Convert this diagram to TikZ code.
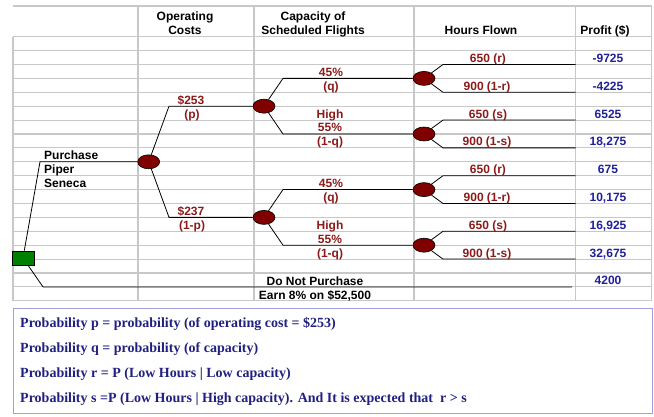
\documentclass[tikz,border=0pt]{standalone}
\usepackage{fontspec}
\setmainfont{Liberation Sans}
\newfontfamily\notefont{Liberation Serif}
\usetikzlibrary{shapes.geometric}
\definecolor{labc}{HTML}{8B1A1A}
\definecolor{profc}{HTML}{1F1F99}
\definecolor{gridc}{HTML}{C8C8C8}
\definecolor{boxc}{HTML}{A0A0E0}
\definecolor{notec}{HTML}{202080}
\definecolor{maroonc}{HTML}{800000}
\definecolor{leafc}{HTML}{008000}
\begin{document}
\begin{tikzpicture}[x=1pt,y=-1pt,
  font=\bfseries\fontsize{12}{14}\selectfont,
  tx/.style={anchor=base, inner sep=0pt},
  lab/.style={tx, text=labc},
  pf/.style={tx, text=profc},
  note/.style={anchor=base west, inner sep=0pt, text=notec, font=\notefont\bfseries\fontsize{14}{16}\selectfont},
  chance/.style={ellipse, draw=black, line width=0.6pt, fill=maroonc, minimum width=22pt, minimum height=14pt, inner sep=0pt},
  decision/.style={rectangle, draw=black, line width=0.6pt, fill=leafc, minimum width=22pt, minimum height=14pt, inner sep=0pt},
  conn/.style={draw=black, line width=0.8pt},
  gridl/.style={draw=gridc, line width=1.1pt}]
\useasboundingbox (0,0) rectangle (654,417);
% grid
\draw[gridl] (12.5,6) -- (651.5,6);
\foreach \k in {0,...,19} \draw[gridl] (13,{36.7+13.9*\k}) -- (651.5,{36.7+13.9*\k});
\draw[gridl, line width=2pt] (13,273) -- (651.5,273);
\draw[gridl] (13,36.7) -- (13,300.8);
\foreach \x in {138,254,414,575.5,651.5} \draw[gridl] (\x,6) -- (\x,300.8);
% headers
\node[tx] (h1a) at (185,20.5) {Operating};
\node[tx] (h1b) at (185,34.5) {Costs};
\node[tx] (h2a) at (313,20.5) {Capacity of};
\node[tx] (h2b) at (313,34.5) {Scheduled Flights};
\node[tx] (h3) at (481,35) {Hours Flown};
\node[tx] (h4) at (605,35) {Profit (\$)};
% tree nodes
\node[decision] (d0) at (23,258) {};
\node[chance] (c1) at (148.7,161.8) {};
\node[chance] (c2) at (264,106.2) {};
\node[chance] (c3) at (264,217.4) {};
\node[chance] (n1) at (424,78.4) {};
\node[chance] (n2) at (424,134) {};
\node[chance] (n3) at (424,189.6) {};
\node[chance] (n4) at (424,245.2) {};
% coordinates
\coordinate (pA) at (40,161.8);
\coordinate (b1) at (169,106.2);
\coordinate (b2) at (169,217.4);
\coordinate (q1) at (283,78.4);
\coordinate (q2) at (283,134);
\coordinate (q3) at (283,189.6);
\coordinate (q4) at (283,245.2);
\coordinate (dnb) at (43,286.9);
\coordinate (dne) at (572,286.9);
% connectors
\draw[conn] (d0) -- (pA) -- (c1);
\draw[conn] (c1) -- (b1) -- (c2);
\draw[conn] (c1) -- (b2) -- (c3);
\draw[conn] (c2) -- (q1) -- (n1);
\draw[conn] (c2) -- (q2) -- (n2);
\draw[conn] (c3) -- (q3) -- (n3);
\draw[conn] (c3) -- (q4) -- (n4);
\draw[conn] (d0) -- (dnb) -- (dne);
\foreach \n/\y in {n1/78.4,n2/134,n3/189.6,n4/245.2}{
  \coordinate (\n u) at (443,{\y-13.9});
  \coordinate (\n ue) at (575.5,{\y-13.9});
  \coordinate (\n d) at (443,{\y+13.9});
  \coordinate (\n de) at (575.5,{\y+13.9});
  \draw[conn] (\n) -- (\n u) -- (\n ue);
  \draw[conn] (\n) -- (\n d) -- (\n de);
}
% purchase text
\node[tx, anchor=base west] (t1) at (44,159.8) {Purchase};
\node[tx, anchor=base west] (t2) at (44,173.7) {Piper};
\node[tx, anchor=base west] (t3) at (44,187.6) {Seneca};
% cost labels
\node[lab] (l1) at (191,104.2) {\$253};
\node[lab] (l2) at (192,118.1) {(p)};
\node[lab] (l3) at (191,215.4) {\$237};
\node[lab] (l4) at (192,229.3) {(1-p)};
% capacity labels
\node[lab] (k1) at (331,76.4) {45\%};
\node[lab] (k2) at (331,90.3) {(q)};
\node[lab] (k3) at (330,118.1) {High};
\node[lab] (k4) at (330,132.0) {55\%};
\node[lab] (k5) at (330,145.9) {(1-q)};
\node[lab] (k6) at (331,187.6) {45\%};
\node[lab] (k7) at (331,201.5) {(q)};
\node[lab] (k8) at (330,229.3) {High};
\node[lab] (k9) at (330,243.2) {55\%};
\node[lab] (k10) at (330,257.1) {(1-q)};
% hours labels
\node[lab] (r1) at (488,62.5) {650 (r)};
\node[lab] (r2) at (487,90.3) {900 (1-r)};
\node[lab] (r3) at (488,118.1) {650 (s)};
\node[lab] (r4) at (487,145.9) {900 (1-s)};
\node[lab] (r5) at (488,173.7) {650 (r)};
\node[lab] (r6) at (487,201.5) {900 (1-r)};
\node[lab] (r7) at (488,229.3) {650 (s)};
\node[lab] (r8) at (487,257.1) {900 (1-s)};
% profits
\node[pf] (p1) at (608,62.5) {-9725};
\node[pf] (p2) at (608,90.3) {-4225};
\node[pf] (p3) at (608,118.1) {6525};
\node[pf] (p4) at (608,145.9) {18,275};
\node[pf] (p5) at (608,173.7) {675};
\node[pf] (p6) at (608,201.5) {10,175};
\node[pf] (p7) at (608,229.3) {16,925};
\node[pf] (p8) at (608,257.1) {32,675};
\node[pf] (p9) at (608,284.9) {4200};
% do not purchase
\node[tx] (dn1) at (315,285.8) {Do Not Purchase};
\node[tx] (dn2) at (315,299.3) {Earn 8\% on \$52,500};
% note box
\node[draw=boxc, line width=1pt, inner sep=0pt, minimum width=639pt, minimum height=105pt, anchor=north west] (box) at (12.5,308) {};
\node[note] (s1) at (20,327.5) {Probability p = probability (of operating cost = \$253)};
\node[note] (s2) at (20,352.5) {Probability q = probability (of capacity)};
\node[note] (s3) at (20,377.5) {Probability r = P (Low Hours | Low capacity)};
\node[note] (s4) at (20,402.5) {Probability s =P (Low Hours | High capacity). And It is expected that\ \ r > s};
\end{tikzpicture}
\end{document}
